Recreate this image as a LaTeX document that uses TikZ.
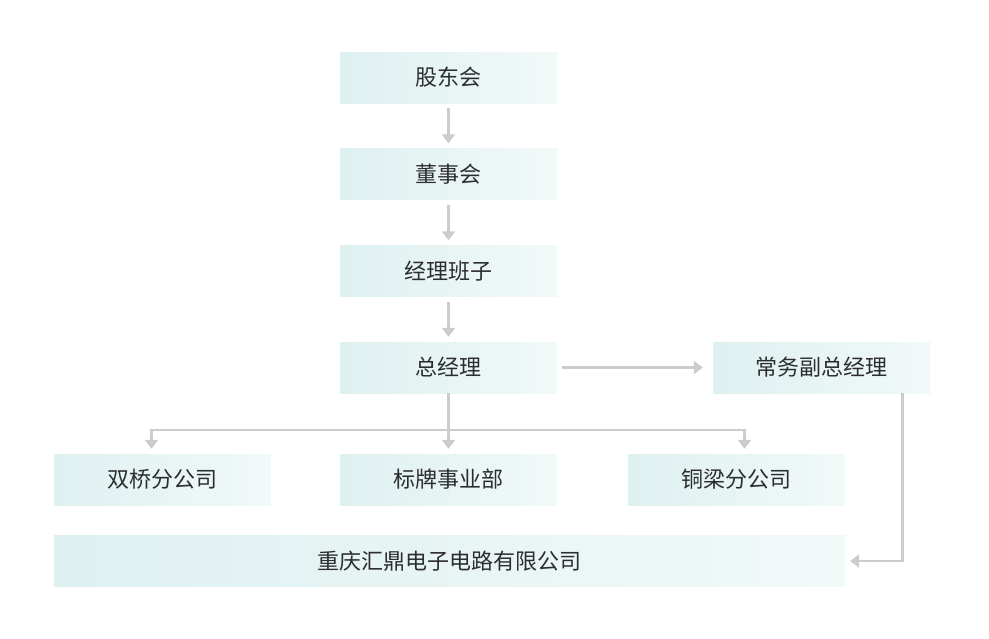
\documentclass[tikz,border=0pt]{standalone}
\usepackage{fontspec}
\setmainfont{Noto Sans CJK SC}
\usetikzlibrary{arrows.meta}
\definecolor{boxteal}{RGB}{222,240,240}
\definecolor{linegray}{RGB}{204,204,206}
\definecolor{textgray}{RGB}{45,45,45}

\begin{document}
\begin{tikzpicture}[x=1pt, y=-1pt,
    orgbox/.style={left color=boxteal, right color=boxteal!40, draw=none,
        minimum width=217pt, minimum height=51pt, inner sep=0pt,
        font=\fontsize{22}{26}\selectfont, text=textgray},
    link/.style={draw=linegray, line width=2.5pt, shorten >=5pt, shorten <=5pt,
        -{Triangle[length=9pt, width=13pt]}}]
    \useasboundingbox (0,0) rectangle (989,638);

    % main chain
    \node[orgbox] (holders) at (448.5,77.5) {股东会};
    \node[orgbox] (board) at (448.5,174) {董事会};
    \node[orgbox] (managers) at (448.5,271) {经理班子};
    \node[orgbox] (gm) at (448.5,367.5) {总经理};
    \node[orgbox] (vgm) at (821.5,367.5) {常务副总经理};

    \draw[link] (holders) -- (board);
    \draw[link] (board) -- (managers);
    \draw[link] (managers) -- (gm);
    \draw[link, shorten >=10pt] (gm) -- (vgm);

    % branches
    \node[orgbox] (shuangqiao) at (162.5,479.5) {双桥分公司};
    \node[orgbox] (biaopai) at (448.5,479.5) {标牌事业部};
    \node[orgbox] (tongliang) at (736.5,479.5) {铜梁分公司};
    \node[orgbox, minimum width=791pt] (company) at (449.5,561) {重庆汇鼎电子电路有限公司};

    \coordinate (split) at (448.5,430);
    \draw[draw=linegray, line width=2.5pt] (gm) -- (split);
    \draw[link, shorten <=0pt] (split) -| ([xshift=-11pt]shuangqiao.north);
    \draw[link, shorten <=0pt] (split) -- (biaopai);
    \draw[link, shorten <=0pt] (split) -| ([xshift=8pt]tongliang.north);
    \draw[link, shorten <=0pt] ([xshift=81pt]vgm.south) |- (company.east);
\end{tikzpicture}
\end{document}
